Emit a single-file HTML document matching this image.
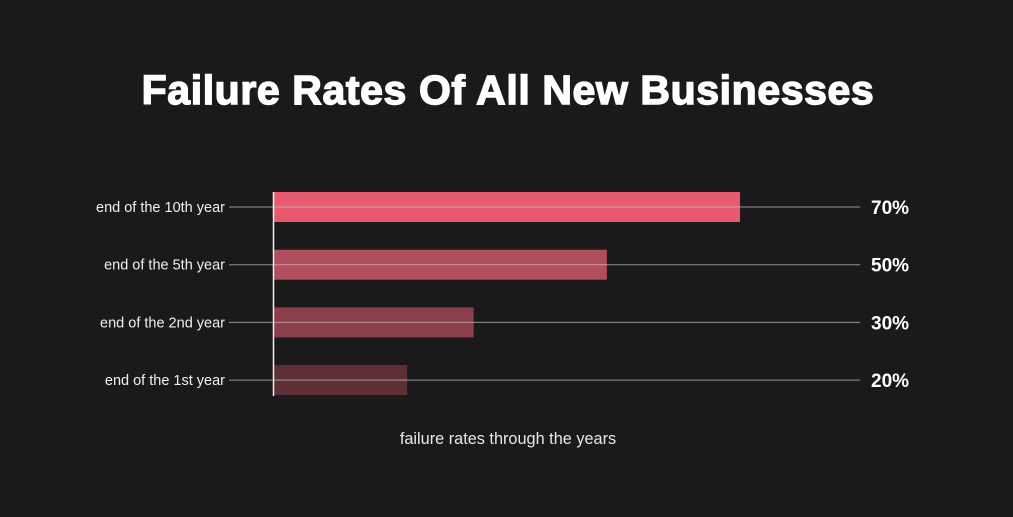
<!DOCTYPE html>
<html><head><meta charset="utf-8"><style>
html,body{margin:0;padding:0;background:#1b191a;}
body{width:1013px;height:512px;overflow:hidden;position:relative;font-family:"Liberation Sans",sans-serif;}
</style></head><body>
<svg width="1013" height="512" viewBox="0 0 1013 512" xmlns="http://www.w3.org/2000/svg">
<rect width="1013" height="512" fill="#1b191a"/>
<text x="508" y="104" text-anchor="middle" font-family="Liberation Sans, sans-serif" font-weight="bold" font-size="41" letter-spacing="0.6" fill="#ffffff" stroke="#ffffff" stroke-width="1.4">Failure Rates Of All New Businesses</text>
<g id="plot"></g>
<text x="508" y="444" text-anchor="middle" font-family="Liberation Sans, sans-serif" font-size="16.3" fill="#e8e8e8">failure rates through the years</text>
</svg>
<script>
const categories = ["end of the 10th year","end of the 5th year","end of the 2nd year","end of the 1st year"];
const values = [70, 50, 30, 20];
const valueLabels = ["70%","50%","30%","20%"];
const colors = ["#e85a6e","#b04e5e","#8a3f4a","#5f2f36"];
const NS="http://www.w3.org/2000/svg";
const g=document.getElementById('plot');
const x0=274, pxPer=466/70;
const xScale=v=>x0+v*pxPer;
const yCenter=i=>207+i*57.7;
const bh=30;
function mk(t,a){const e=document.createElementNS(NS,t);for(const k in a)e.setAttribute(k,a[k]);g.appendChild(e);return e;}
categories.forEach((c,i)=>{
  const yc=yCenter(i);
  const bar=mk('rect',{x:x0,y:yc-bh/2,width:xScale(values[i])-x0,height:bh,fill:colors[i]});
  
  
  const ln=mk('line',{x1:229,x2:860,y1:yc,y2:yc,stroke:'#bdbdbd','stroke-width':1,'stroke-opacity':0.75});
  
  
  const lb=mk('text',{x:225,y:yc+5,'text-anchor':'end','font-size':14.5,fill:'#f0f0f0','font-family':'Liberation Sans, sans-serif'});
  lb.textContent=c;
  
  
  const vl=mk('text',{x:871,y:yc+7,'font-size':19,'font-weight':'bold',fill:'#ffffff','font-family':'Liberation Sans, sans-serif'});
  vl.textContent=valueLabels[i];
  
  
});
const ax=mk('line',{x1:273.5,x2:273.5,y1:192,y2:396,stroke:'#f0f0f0','stroke-width':1.5});


</script>
</body></html>
